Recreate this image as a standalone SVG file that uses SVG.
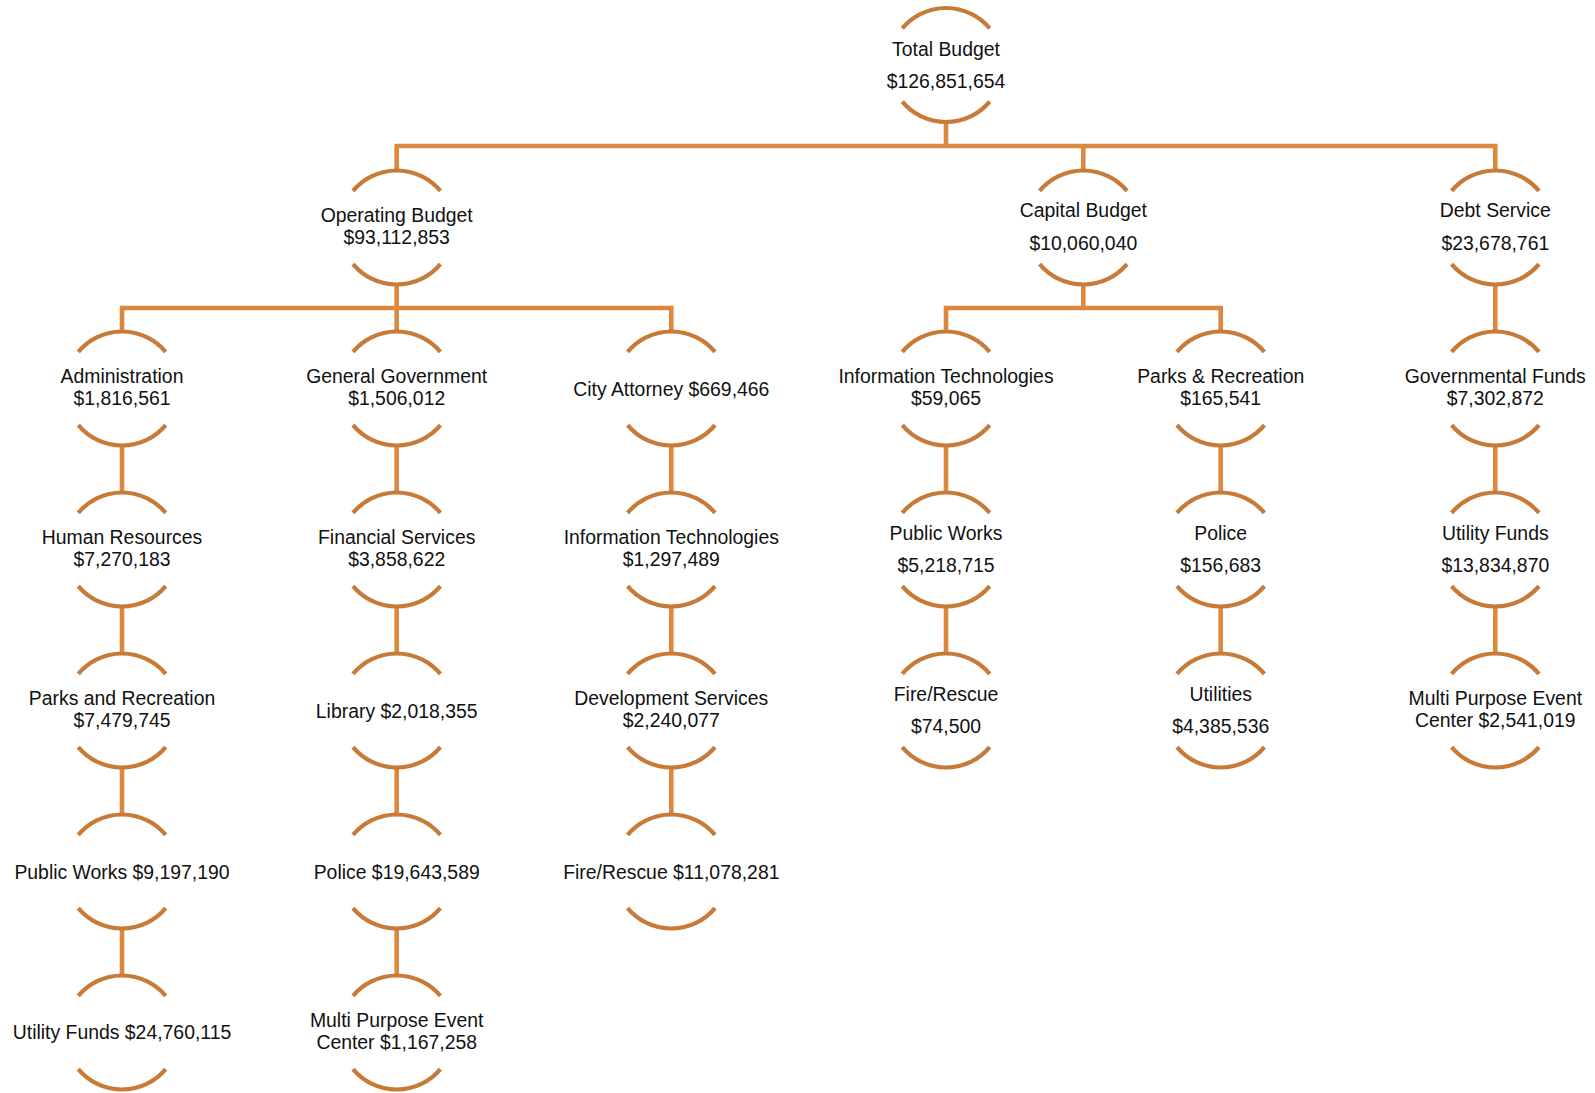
<svg xmlns="http://www.w3.org/2000/svg" xmlns:xlink="http://www.w3.org/1999/xlink" width="1595" height="1093" viewBox="0 0 1595 1093">
<style>
.arc{fill:none;stroke:#C87A38;stroke-width:4.2}
.con{fill:none;stroke:#DC893F;stroke-width:4.6;stroke-linejoin:miter}
text{font-family:"Liberation Sans",Arial,sans-serif;font-size:19.4px;fill:#111;text-anchor:middle}
</style>
<defs>
<g id="ring">
<path class="arc" d="M -43.7 -36.6 A 57 57 0 0 1 43.7 -36.6"/>
<path class="arc" d="M 43.7 36.6 A 57 57 0 0 1 -43.7 36.6"/>
</g>
</defs>
<rect width="1595" height="1093" fill="#fff"/>
<g id="connectors">
<path class="con" d="M946 122V146M396.7 170.5V146H1495.3V170.5M1083.3 146V170.5"/>
<path class="con" d="M396.7 284.5V308M122 331.5V308H671.3V331.5M396.7 308V331.5"/>
<path class="con" d="M1083.3 284.5V308M946 331.5V308H1220.7V331.5"/>
<path class="con" d="M1495.3 284.5V331.5"/>
<path class="con" d="M122 445.5V492.5M122 606.5V653.5M122 767.5V814.5M122 928.5V975.5"/>
<path class="con" d="M396.7 445.5V492.5M396.7 606.5V653.5M396.7 767.5V814.5M396.7 928.5V975.5"/>
<path class="con" d="M671.3 445.5V492.5M671.3 606.5V653.5M671.3 767.5V814.5"/>
<path class="con" d="M946 445.5V492.5M946 606.5V653.5"/>
<path class="con" d="M1220.7 445.5V492.5M1220.7 606.5V653.5"/>
<path class="con" d="M1495.3 445.5V492.5M1495.3 606.5V653.5"/>
</g>
<g id="total"><use href="#ring" x="946" y="65"/><text x="946" y="55.5">Total Budget</text><text x="946" y="87.5">$126,851,654</text></g>
<g id="operating"><use href="#ring" x="396.7" y="227.5"/><text x="396.7" y="222">Operating Budget</text><text x="396.7" y="244">$93,112,853</text></g>
<g id="capital"><use href="#ring" x="1083.3" y="227.5"/><text x="1083.3" y="217">Capital Budget</text><text x="1083.3" y="250">$10,060,040</text></g>
<g id="debt"><use href="#ring" x="1495.3" y="227.5"/><text x="1495.3" y="217">Debt Service</text><text x="1495.3" y="250">$23,678,761</text></g>

<g id="administration"><use href="#ring" x="122" y="388.5"/><text x="122" y="383">Administration</text><text x="122" y="405">$1,816,561</text></g>
<g id="human-resources"><use href="#ring" x="122" y="549.5"/><text x="122" y="544">Human Resources</text><text x="122" y="566">$7,270,183</text></g>
<g id="parks-recreation-op"><use href="#ring" x="122" y="710.5"/><text x="122" y="705">Parks and Recreation</text><text x="122" y="727">$7,479,745</text></g>
<g id="public-works-op"><use href="#ring" x="122" y="871.5"/><text x="122" y="878.5">Public Works $9,197,190</text></g>
<g id="utility-funds-op"><use href="#ring" x="122" y="1032.5"/><text x="122" y="1039">Utility Funds $24,760,115</text></g>

<g id="general-government"><use href="#ring" x="396.7" y="388.5"/><text x="396.7" y="383">General Government</text><text x="396.7" y="405">$1,506,012</text></g>
<g id="financial-services"><use href="#ring" x="396.7" y="549.5"/><text x="396.7" y="544">Financial Services</text><text x="396.7" y="566">$3,858,622</text></g>
<g id="library"><use href="#ring" x="396.7" y="710.5"/><text x="396.7" y="717.5">Library $2,018,355</text></g>
<g id="police-op"><use href="#ring" x="396.7" y="871.5"/><text x="396.7" y="878.5">Police $19,643,589</text></g>
<g id="mpec-op"><use href="#ring" x="396.7" y="1032.5"/><text x="396.7" y="1027">Multi Purpose Event</text><text x="396.7" y="1049">Center $1,167,258</text></g>

<g id="city-attorney"><use href="#ring" x="671.3" y="388.5"/><text x="671.3" y="395.5">City Attorney $669,466</text></g>
<g id="info-tech-op"><use href="#ring" x="671.3" y="549.5"/><text x="671.3" y="544">Information Technologies</text><text x="671.3" y="566">$1,297,489</text></g>
<g id="development-services"><use href="#ring" x="671.3" y="710.5"/><text x="671.3" y="705">Development Services</text><text x="671.3" y="727">$2,240,077</text></g>
<g id="fire-rescue-op"><use href="#ring" x="671.3" y="871.5"/><text x="671.3" y="878.5">Fire/Rescue $11,078,281</text></g>

<g id="info-tech-cap"><use href="#ring" x="946" y="388.5"/><text x="946" y="383">Information Technologies</text><text x="946" y="405">$59,065</text></g>
<g id="public-works-cap"><use href="#ring" x="946" y="549.5"/><text x="946" y="539.5">Public Works</text><text x="946" y="572">$5,218,715</text></g>
<g id="fire-rescue-cap"><use href="#ring" x="946" y="710.5"/><text x="946" y="700.5">Fire/Rescue</text><text x="946" y="733">$74,500</text></g>

<g id="parks-recreation-cap"><use href="#ring" x="1220.7" y="388.5"/><text x="1220.7" y="383">Parks &amp; Recreation</text><text x="1220.7" y="405">$165,541</text></g>
<g id="police-cap"><use href="#ring" x="1220.7" y="549.5"/><text x="1220.7" y="539.5">Police</text><text x="1220.7" y="572">$156,683</text></g>
<g id="utilities-cap"><use href="#ring" x="1220.7" y="710.5"/><text x="1220.7" y="700.5">Utilities</text><text x="1220.7" y="733">$4,385,536</text></g>

<g id="governmental-funds"><use href="#ring" x="1495.3" y="388.5"/><text x="1495.3" y="383">Governmental Funds</text><text x="1495.3" y="405">$7,302,872</text></g>
<g id="utility-funds-debt"><use href="#ring" x="1495.3" y="549.5"/><text x="1495.3" y="539.5">Utility Funds</text><text x="1495.3" y="572">$13,834,870</text></g>
<g id="mpec-debt"><use href="#ring" x="1495.3" y="710.5"/><text x="1495.3" y="705">Multi Purpose Event</text><text x="1495.3" y="727">Center $2,541,019</text></g>
</svg>
